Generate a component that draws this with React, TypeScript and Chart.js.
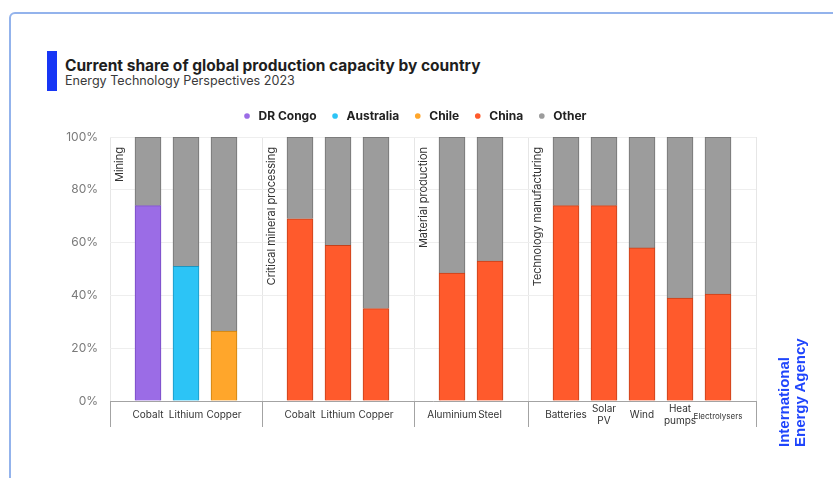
import React, { useEffect, useRef } from 'react';
import { Chart, registerables } from 'chart.js';

Chart.register(...registerables);

// ---------- data ----------
const categories: (string | string[])[] = [
  '', 'Cobalt', 'Lithium', 'Copper',
  '', 'Cobalt', 'Lithium', 'Copper',
  '', 'Aluminium', 'Steel',
  '', 'Batteries', ['Solar', 'PV'], 'Wind', ['Heat', 'pumps'], 'Electrolysers',
  '',
];
const groupNames = ['Mining', 'Critical mineral processing', 'Material production', 'Technology manufacturing'];
const groupStartIndex = [0, 4, 8, 11];
const separatorIndex = [0, 4, 8, 11, 17];

const seriesNames = ['DR Congo', 'Australia', 'Chile', 'China', 'Other'];
const seriesColors = ['#9b6ce6', '#2cc4f6', '#ffa62b', '#ff5a2c', '#9c9c9c'];
const seriesBorders = ['#7549c2', '#1b95c0', '#c8800f', '#c4401a', '#727272'];

const drCongo = [null, 74, null, null, null, null, null, null, null, null, null, null, null, null, null, null, null, null];
const australia = [null, null, 51, null, null, null, null, null, null, null, null, null, null, null, null, null, null, null];
const chile = [null, null, null, 26.5, null, null, null, null, null, null, null, null, null, null, null, null, null, null];
const china = [null, null, null, null, null, 69, 59, 35, null, 48.5, 53, null, 74, 74, 58, 39, 40.5, null];
const other = [null, 26, 49, 73.5, null, 31, 41, 65, null, 51.5, 47, null, 26, 26, 42, 61, 59.5, null];

const yTickStep = 20;
const yMax = 100;

const seriesValues = [drCongo, australia, chile, china, other];

const groupLabelPlugin = {
  id: 'groupLabels',
  afterDatasetsDraw(chart: any) {
    const { ctx, chartArea, scales } = chart;
    const xs = scales.x;
    ctx.save();
    ctx.font = '11px Inter, "Noto Sans", sans-serif';
    ctx.fillStyle = '#333333';
    ctx.textAlign = 'right';
    ctx.textBaseline = 'middle';
    groupNames.forEach((name, i) => {
      const x = xs.getPixelForValue(groupStartIndex[i]) + 9.5;
      ctx.save();
      ctx.translate(x, chartArea.top + 10);
      ctx.rotate(-Math.PI / 2);
      ctx.fillText(name, 0, 0);
      ctx.restore();
    });
    ctx.restore();
  },
};

function ChartCanvas() {
  const ref = useRef<HTMLCanvasElement | null>(null);
  useEffect(() => {
    if (!ref.current) return;
    const chart = new Chart(ref.current, {
      type: 'bar',
      data: {
        labels: categories as any,
        datasets: seriesNames.map((name, i) => ({
          label: name,
          data: seriesValues[i] as any,
          backgroundColor: seriesColors[i],
          borderColor: seriesBorders[i],
          borderWidth: 1,
          barThickness: 26,
          xAxisID: 'x',
          yAxisID: 'y',
        })),
      },
      options: {
        animation: false,
        responsive: true,
        maintainAspectRatio: false,
        layout: { padding: { top: 97, left: 0, right: 5, bottom: 37 } },
        plugins: {
          tooltip: { enabled: false },
          legend: {
            position: 'top',
            labels: {
              usePointStyle: true,
              pointStyle: 'circle',
              boxWidth: 11,
              boxHeight: 4,
              padding: 13,
              color: '#222222',
              font: { family: 'Inter, "Noto Sans", sans-serif', size: 12, weight: 'bold' },
              generateLabels: (c: any) =>
                (Chart.defaults.plugins.legend.labels as any).generateLabels(c).map((l: any) => ({
                  ...l,
                  lineWidth: 0,
                  strokeStyle: l.fillStyle,
                })),
            },
          },
        },
        scales: {
          x: {
            type: 'category',
            stacked: true,
            offset: false,
            grid: {
              offset: false,
              drawOnChartArea: true,
              color: (ctx: any) => (separatorIndex.includes(ctx.index) ? '#e6e6e6' : 'rgba(0,0,0,0)'),
              tickColor: (ctx: any) => (separatorIndex.includes(ctx.index) ? '#a3a3a3' : 'rgba(0,0,0,0)'),
              tickLength: 26,
              lineWidth: 1,
            },
            border: { display: true, color: '#a3a3a3', width: 1 },
            ticks: {
              autoSkip: false,
              maxRotation: 0,
              minRotation: 0,
              padding: -18,
              crossAlign: 'center',
              color: '#333333',
              font: (ctx: any) => ({
                family: 'Inter, "Noto Sans", sans-serif',
                size: ctx.index === 16 ? 8 : 10,
              }),
            },
            afterFit: (s: any) => {
              s.height = 40;
            },
          } as any,
          y: {
            stacked: true,
            min: 0,
            max: yMax,
            ticks: {
              stepSize: yTickStep,
              callback: (v: any) => v + '%',
              padding: 12,
              color: '#7a7a7a',
              font: { family: 'Inter, "Noto Sans", sans-serif', size: 12 },
            },
            grid: { color: '#eeeeee', drawTicks: false },
            border: { display: false },
            afterFit: (s: any) => {
              s.width = 110;
            },
          } as any,
          xTop: {
            type: 'linear',
            position: 'top',
            display: true,
            grid: { display: false },
            ticks: { display: false },
            border: { display: false },
            afterFit: (s: any) => {
              s.height = 5;
            },
          } as any,
          yRight: {
            type: 'linear',
            position: 'right',
            display: true,
            grid: { display: false },
            ticks: { display: false },
            border: { display: false },
            afterFit: (s: any) => {
              s.width = 72;
            },
          } as any,
        },
      } as any,
      plugins: [groupLabelPlugin],
    });
    let alive = true;
    if ((document as any).fonts && (document as any).fonts.ready) {
      (document as any).fonts.ready.then(() => {
        if (alive) chart.update();
      });
    }
    return () => {
      alive = false;
      chart.destroy();
    };
  }, []);
  return <canvas ref={ref} />;
}

export default function App() {
  return (
    <div
      style={{
        position: 'fixed',
        left: 0,
        top: 0,
        width: 833,
        height: 478,
        overflow: 'hidden',
        background: '#ffffff',
      }}
    >
      <div
        style={{
          position: 'absolute',
          left: 9,
          top: 12,
          width: 900,
          height: 600,
          border: '2px solid #93b3ec',
          borderRadius: 6,
          boxSizing: 'border-box',
        }}
      />
      <div style={{ position: 'absolute', left: 47, top: 51, width: 10, height: 40, background: '#1736f5' }} />
      <div
        style={{
          position: 'absolute',
          left: 65,
          top: 56.5,
          fontFamily: 'Inter, "Noto Sans", sans-serif',
          fontWeight: 700,
          fontSize: 15.5,
          lineHeight: '18px',
          color: '#1e1e1e',
          whiteSpace: 'nowrap',
        }}
      >
        Current share of global production capacity by country
      </div>
      <div
        style={{
          position: 'absolute',
          left: 65,
          top: 73,
          fontFamily: 'Inter, "Noto Sans", sans-serif',
          fontSize: 12.6,
          lineHeight: '15px',
          color: '#3a3a3a',
          whiteSpace: 'nowrap',
        }}
      >
        Energy Technology Perspectives 2023
      </div>
      <div style={{ position: 'absolute', left: 0, top: 0, width: 833, height: 478 }}>
        <ChartCanvas />
      </div>
      <div
        style={{
          position: 'absolute',
          left: 775.5,
          top: 447,
          transform: 'rotate(-90deg)',
          transformOrigin: '0 0',
          fontFamily: '"Liberation Sans", Arial, sans-serif',
          fontWeight: 700,
          fontSize: 15,
          lineHeight: '16px',
          color: '#1f45fc',
          whiteSpace: 'nowrap',
        }}
      >
        International
        <br />
        Energy Agency
      </div>
    </div>
  );
}
